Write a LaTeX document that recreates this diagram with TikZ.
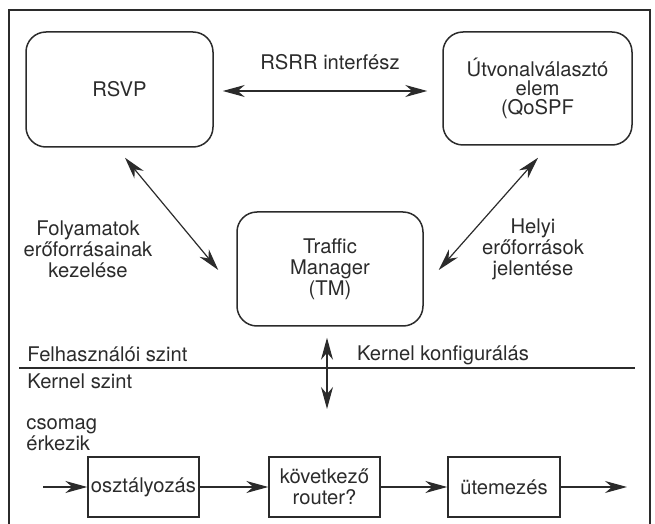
\documentclass[tikz,border=0pt]{standalone}
\usepackage{fontspec}
\setmainfont{TeX Gyre Heros}
\usetikzlibrary{arrows.meta}
\definecolor{tinta}{HTML}{2B2B2B}

\tikzset{
  kerekdoboz/.style={draw=tinta, line width=0.75pt, rounded corners=10pt, align=center, inner sep=0pt},
  doboz/.style={draw=tinta, line width=0.7pt, align=center, inner sep=0pt, minimum height=30pt},
  szoveg/.style={inner sep=0pt, align=center},
  nyil/.style={draw=tinta, line width=0.6pt, -{Stealth[length=11pt,width=6pt,inset=3.5pt]}},
  ketnyil/.style={draw=tinta, line width=0.6pt, {Stealth[length=11pt,width=6pt,inset=3.5pt]}-{Stealth[length=11pt,width=6pt,inset=3.5pt]}},
  valaszto/.style={draw=tinta, line width=1.4pt}
}

\begin{document}
\begin{tikzpicture}[x=0.5pt, y=-0.5pt, font=\fontsize{10.1pt}{10.5pt}\selectfont, text=tinta]
    \useasboundingbox (0,0) rectangle (655,524);

    % Keret (alul nyitott)
    \draw[tinta, line width=0.75pt] (9,524) -- (9,10) -- (650,10) -- (650,524);

    % Felhasználói szint dobozai
    \node[kerekdoboz, minimum width=93.5pt, minimum height=57.5pt] (rsvp) at (119.5,89.5) {RSVP};
    \node[kerekdoboz, minimum width=94.5pt, minimum height=56.5pt,
          font=\fontsize{10.1pt}{9.6pt}\selectfont] (utvonal) at (537.5,88.5) {Útvonalválasztó\\elem\\(QoSPF};
    \node[kerekdoboz, minimum width=93pt, minimum height=57pt] (tm) at (330,269) {Traffic\\Manager\\(TM)};

    % Nyilak a dobozok között
    \draw[ketnyil] ([shift={(9,1.5)}]rsvp.east) -- ([shift={(-15,2.5)}]utvonal.west);
    \draw[ketnyil] ([shift={(5.5,10)}]rsvp.south) -- ([shift={(-18,1)}]tm.west);
    \draw[ketnyil] ([shift={(0.5,12)}]utvonal.south) -- ([shift={(15,1)}]tm.east);

    % Feliratok
    \node[szoveg] (rsrr) at (330,62) {RSRR interfész};
    \node[szoveg] (folyam) at (88,249) {Folyamatok\\erőforrásainak\\kezelése};
    \node[szoveg] (helyi) at (533,249) {Helyi\\erőforrások\\jelentése};

    % Szintek határa
    \coordinate (hbal) at (19,368);
    \coordinate (hjobb) at (635,368);
    \draw[valaszto] (hbal) -- (hjobb);
    \node[szoveg, anchor=west] (felh) at (27,354) {Felhasználói szint};
    \node[szoveg, anchor=west] (kernel) at (27,381) {Kernel szint};
    \node[szoveg] (konf) at (443,355) {Kernel konfigurálás};

    % Kernel konfigurálás nyíl
    \coordinate (kconf) at (327,409);
    \draw[ketnyil] ([shift={(-3,11)}]tm.south) -- (kconf);

    % Csomagok útja
    \node[szoveg, anchor=west, align=left] (csomag) at (26,435) {csomag\\érkezik};
    \node[doboz, minimum width=55.5pt] (osztaly) at (143.5,487) {osztályozás};
    \node[doboz, minimum width=55.5pt] (kovetkezo) at (324.5,487) {következő\\router?};
    \node[doboz, minimum width=56pt] (utemezes) at (504,487) {ütemezés};
    \coordinate (be) at (43,487);
    \coordinate (ki) at (627,487);
    \draw[nyil] (be) -- (osztaly);
    \draw[nyil] (osztaly) -- (kovetkezo);
    \draw[nyil] (kovetkezo) -- (utemezes);
    \draw[nyil] (utemezes) -- (ki);
\end{tikzpicture}
\end{document}
